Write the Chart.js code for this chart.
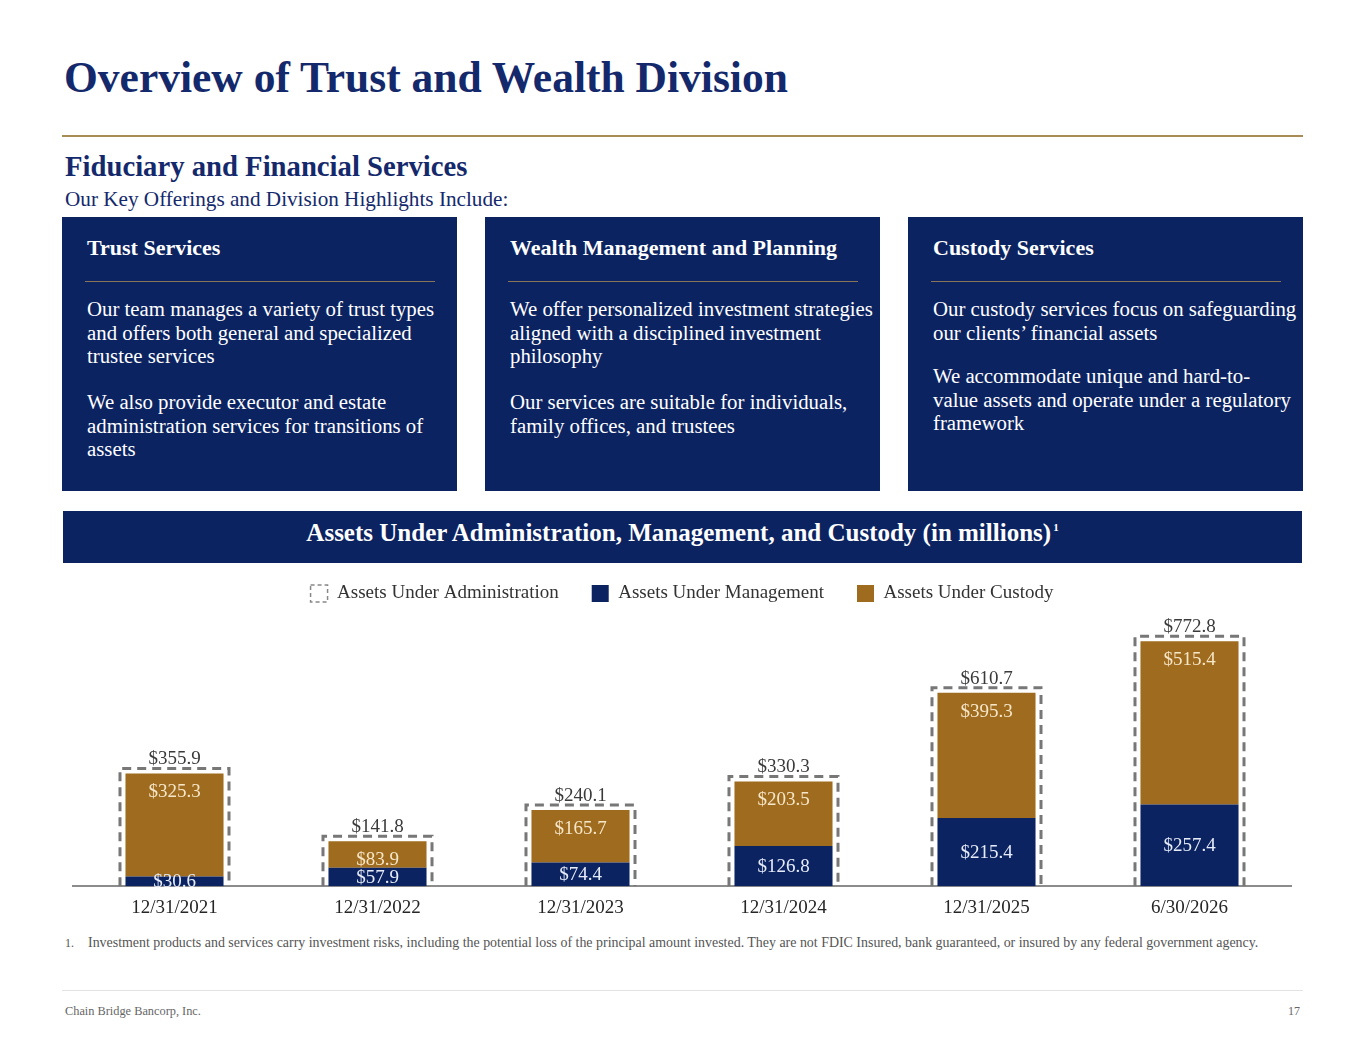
<!DOCTYPE html>
<html><head><meta charset="utf-8">
<script src="https://cdn.jsdelivr.net/npm/chart.js@4.4.1/dist/chart.umd.min.js"></script>
<style>
body{margin:0;background:#fff;}
#page{position:relative;width:1365px;height:1055px;overflow:hidden;font-family:"Liberation Serif","Times New Roman",serif;background:#fff;}
.abs{position:absolute;white-space:nowrap;}
.box{position:absolute;top:217px;width:395px;height:274px;background:#0c2362;color:#fff;}
.box .hd{position:absolute;left:25px;top:17.6px;font-size:22px;line-height:26px;font-weight:bold;white-space:nowrap;}
.box .dv{position:absolute;left:23px;top:64px;width:350px;height:1px;background:#8a7457;}
.box .p{position:absolute;left:25px;font-size:20.8px;line-height:23.3px;white-space:nowrap;}
</style></head>
<body>
<div id="page">
  <div class="abs" style="left:64px;top:52px;font-size:43.5px;line-height:50px;font-weight:bold;color:#14296c;">Overview of Trust and Wealth Division</div>
  <div class="abs" style="left:62px;top:135px;width:1241px;height:2px;background:#a98b57;"></div>
  <div class="abs" style="left:65px;top:149px;font-size:28.7px;line-height:34px;font-weight:bold;color:#14296c;">Fiduciary and Financial Services</div>
  <div class="abs" style="left:65px;top:186px;font-size:21.2px;line-height:26px;color:#14296c;">Our Key Offerings and Division Highlights Include:</div>

  <div class="box" style="left:62px;">
    <div class="hd">Trust Services</div>
    <div class="dv"></div>
    <div class="p" style="top:80.3px;">Our team manages a variety of trust types<br>and offers both general and specialized<br>trustee services</div>
    <div class="p" style="top:173.3px;">We also provide executor and estate<br>administration services for transitions of<br>assets</div>
  </div>
  <div class="box" style="left:485px;">
    <div class="hd">Wealth Management and Planning</div>
    <div class="dv"></div>
    <div class="p" style="top:80.3px;">We offer personalized investment strategies<br>aligned with a disciplined investment<br>philosophy</div>
    <div class="p" style="top:173.3px;">Our services are suitable for individuals,<br>family offices, and trustees</div>
  </div>
  <div class="box" style="left:908px;">
    <div class="hd">Custody Services</div>
    <div class="dv"></div>
    <div class="p" style="top:80.3px;">Our custody services focus on safeguarding<br>our clients’ financial assets</div>
    <div class="p" style="top:147.3px;">We accommodate unique and hard-to-<br>value assets and operate under a regulatory<br>framework</div>
  </div>

  <div class="abs" style="left:63px;top:511px;width:1239px;height:52px;background:#0c2362;"></div>
  <div class="abs" style="left:63px;top:518px;width:1239px;text-align:center;font-size:25px;line-height:30px;font-weight:bold;color:#fff;">Assets Under Administration, Management, and Custody (in millions)<span style="font-size:11px;position:relative;top:-10px;margin-left:2px;">1</span></div>

  <div class="abs" style="left:63px;top:551px;width:1240px;height:378px;"><canvas id="c"></canvas></div>

  <div class="abs" style="left:65px;top:935px;font-size:12px;line-height:16px;color:#555;">1.</div>
  <div class="abs" data-w="1171" style="left:88px;top:935px;font-size:12px;line-height:16px;color:#555;">Investment products and services carry investment risks, including the potential loss of the principal amount invested. They are not FDIC Insured, bank guaranteed, or insured by any federal government agency.</div>
  <div class="abs" style="left:62px;top:990px;width:1241px;height:1px;background:#e3e3e3;"></div>
  <div class="abs" data-w="136" style="left:65px;top:1003px;font-size:12px;line-height:16px;color:#666;">Chain Bridge Bancorp, Inc.</div>
  <div class="abs" style="right:65px;top:1003px;font-size:12px;line-height:16px;color:#666;">17</div>
</div>
<script>
// ---- data ----
const categories = ['12/31/2021','12/31/2022','12/31/2023','12/31/2024','12/31/2025','6/30/2026'];
const auaValues = [355.9, 141.8, 240.1, 330.3, 610.7, 772.8];
const aumValues = [30.6, 57.9, 74.4, 126.8, 215.4, 257.4];
const aucValues = [325.3, 83.9, 165.7, 203.5, 395.3, 515.4];
const seriesNames = ['Assets Under Administration', 'Assets Under Management', 'Assets Under Custody'];

// fit text widths
document.querySelectorAll('[data-w]').forEach(el => {
  const w = el.getBoundingClientRect().width;
  const fs = parseFloat(getComputedStyle(el).fontSize);
  el.style.fontSize = (fs * (+el.dataset.w) / w) + 'px';
});

const NAVY = '#0c2362', GOLD = '#9f6b1e';
const FONT = '"Liberation Serif", "Times New Roman", serif';
const fmt = v => '$' + v.toFixed(1);

const boxPlugin = {
  id: 'auaBox',
  afterDatasetsDraw(chart) {
    const ctx = chart.ctx;
    const meta = chart.getDatasetMeta(0);
    ctx.save();
    ctx.setLineDash([9, 6]);
    ctx.lineWidth = 3;
    ctx.strokeStyle = '#777777';
    meta.data.forEach(el => {
      const p = el.getProps(['x', 'y', 'base', 'width'], true);
      const l = p.x - p.width / 2, r = p.x + p.width / 2, t = p.y - 5;
      ctx.beginPath();
      ctx.moveTo(l, p.base); ctx.lineTo(l, t); ctx.lineTo(r, t); ctx.lineTo(r, p.base);
      ctx.stroke();
    });
    ctx.restore();
    // labels
    ctx.save();
    ctx.textAlign = 'center';
    ctx.textBaseline = 'middle';
    ctx.font = '19px ' + FONT;
    const mAua = chart.getDatasetMeta(0), mAum = chart.getDatasetMeta(1), mAuc = chart.getDatasetMeta(2);
    mAua.data.forEach((el, i) => {
      ctx.fillStyle = '#3a3a3a';
      ctx.fillText(fmt(auaValues[i]), el.x, el.y - 14);
    });
    mAuc.data.forEach((el, i) => {
      ctx.fillStyle = '#f6e7c9';
      ctx.fillText(fmt(aucValues[i]), el.x, el.y + 19);
    });
    mAum.data.forEach((el, i) => {
      ctx.fillStyle = '#e6ecf8';
      ctx.fillText(fmt(aumValues[i]), el.x, (el.y + el.base) / 2 + 1);
    });
    ctx.restore();
  }
};

new Chart(document.getElementById('c'), {
  type: 'bar',
  data: {
    labels: categories,
    datasets: [
      { label: seriesNames[0], data: auaValues, stack: 'total', grouped: false,
        backgroundColor: 'rgba(0,0,0,0)', borderWidth: 0, barPercentage: 0.537, categoryPercentage: 1 },
      { label: seriesNames[1], data: aumValues, stack: 'parts',
        backgroundColor: NAVY, borderWidth: 0, barPercentage: 0.483, categoryPercentage: 1 },
      { label: seriesNames[2], data: aucValues, stack: 'parts',
        backgroundColor: GOLD, borderWidth: 0, barPercentage: 0.483, categoryPercentage: 1 }
    ]
  },
  options: {
    responsive: true,
    maintainAspectRatio: false,
    animation: false,
    layout: { padding: { left: 10, right: 12, top: 0, bottom: 0 } },
    plugins: {
      tooltip: { enabled: false },
      legend: {
        position: 'top',
        labels: {
          font: { family: FONT, size: 19 },
          color: '#333',
          boxWidth: 17, boxHeight: 17, padding: 33,
          generateLabels(chart) {
            const items = Chart.defaults.plugins.legend.labels.generateLabels(chart);
            items.forEach((it, i) => {
              if (i === 0) {
                it.fillStyle = 'rgba(0,0,0,0)';
                it.strokeStyle = '#888';
                it.lineWidth = 1.5;
                it.lineDash = [4, 3];
              } else {
                it.lineWidth = 0;
              }
            });
            return items;
          }
        }
      }
    },
    scales: {
      x: {
        stacked: true,
        grid: { display: false, drawTicks: false },
        border: { display: true, color: '#8c8c8c', width: 2 },
        ticks: { font: { family: FONT, size: 19 }, color: '#262626', padding: 10 }
      },
      y: {
        stacked: true, display: false, min: 0, max: 862
      }
    }
  },
  plugins: [boxPlugin]
});
</script>
</body></html>
